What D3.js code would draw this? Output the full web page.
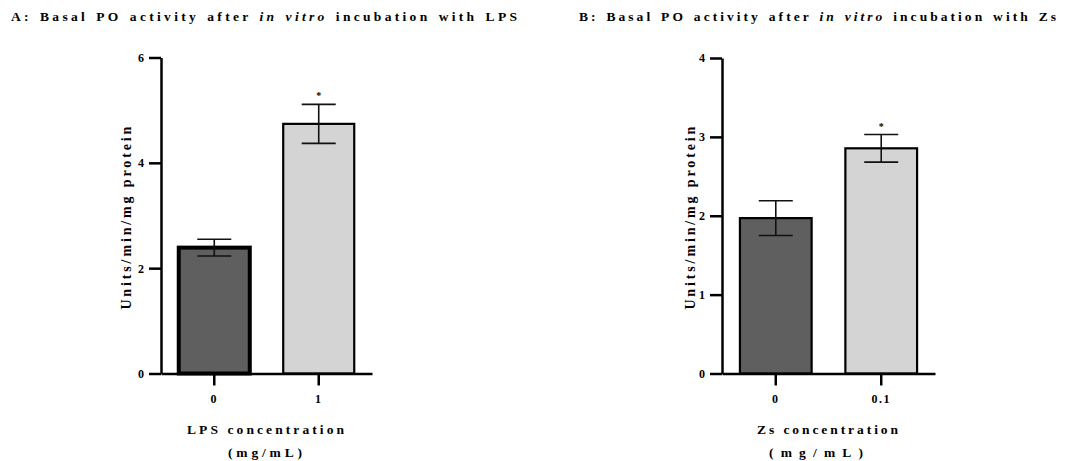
<!DOCTYPE html>
<html>
<head>
<meta charset="utf-8">
<script src="https://cdn.jsdelivr.net/npm/d3@7"></script>
<style>
  html, body { margin: 0; padding: 0; background: #fff; }
  svg { display: block; }
  svg text { font-family: "Liberation Serif", "Times New Roman", "DejaVu Serif", serif; font-weight: 700; fill: #000; }
</style>
</head>
<body>
<svg id="chart" width="1081" height="461"></svg>
<script>
// Panel A: LPS
const lpsCategories = ["0", "1"];
const lpsMeans = [2.39, 4.74];
const lpsErrors = [0.16, 0.37];
const lpsMarks = ["", "*"];
const lpsTicks = [0, 2, 4, 6];

// Panel B: zymosan (Zs)
const zsCategories = ["0", "0.1"];
const zsMeans = [1.97, 2.855];
const zsErrors = [0.22, 0.175];
const zsMarks = ["", "*"];
const zsTicks = [0, 1, 2, 3, 4];

const barFills = ["#5f5f5f", "#d4d4d4"];
const serif = "'Liberation Serif', 'Times New Roman', 'DejaVu Serif', serif";

const svg = d3.select("#chart");

// Spread a text's letters so that it spans a given width
function spread(sel, width) {
  sel.attr("letter-spacing", 0);
  const natural = sel.node().getComputedTextLength();
  const n = sel.text().length;
  sel.attr("letter-spacing", (width - natural) / Math.max(1, n - 1));
  return sel;
}

function panel(cfg) {
  const g = svg.append("g");

  // Title with italic "in vitro"
  const title = g.append("text")
    .attr("x", cfg.titleX).attr("y", 20.5)
    .attr("word-spacing", 1.5)
    .style("font-size", "13.5px");
  title.append("tspan").text(cfg.titlePre);
  title.append("tspan").style("font-style", "italic").text("in vitro");
  title.append("tspan").text(cfg.titlePost);
  spread(title, cfg.titleWidth);

  const x = d3.scaleBand()
    .domain(cfg.categories)
    .range([cfg.x0, cfg.x1])
    .paddingInner(0.32)
    .paddingOuter(0.17);

  const y = d3.scaleLinear()
    .domain([0, cfg.ticks[cfg.ticks.length - 1]])
    .range([373.5, cfg.yTop]);

  const rows = cfg.categories.map((c, i) => ({
    cat: c, mean: cfg.means[i], err: cfg.errors[i], mark: cfg.marks[i],
    fill: barFills[i], sw: cfg.strokeWidths[i]
  }));

  // Bars
  g.selectAll("rect.bar").data(rows).join("rect")
    .attr("class", "bar")
    .attr("x", d => x(d.cat))
    .attr("width", x.bandwidth())
    .attr("y", d => y(d.mean))
    .attr("height", d => y(0) - y(d.mean))
    .attr("fill", d => d.fill)
    .attr("stroke", "#000")
    .attr("stroke-width", d => d.sw);

  // Error bars
  const cap = 17;
  const eb = g.selectAll("g.err").data(rows).join("g").attr("class", "err")
    .attr("stroke", "#111").attr("stroke-width", 1.6);
  eb.append("line")
    .attr("x1", d => x(d.cat) + x.bandwidth() / 2)
    .attr("x2", d => x(d.cat) + x.bandwidth() / 2)
    .attr("y1", d => y(d.mean - d.err))
    .attr("y2", d => y(d.mean + d.err));
  eb.append("line")
    .attr("x1", d => x(d.cat) + x.bandwidth() / 2 - cap)
    .attr("x2", d => x(d.cat) + x.bandwidth() / 2 + cap)
    .attr("y1", d => y(d.mean + d.err))
    .attr("y2", d => y(d.mean + d.err));
  eb.append("line")
    .attr("x1", d => x(d.cat) + x.bandwidth() / 2 - cap)
    .attr("x2", d => x(d.cat) + x.bandwidth() / 2 + cap)
    .attr("y1", d => y(d.mean - d.err))
    .attr("y2", d => y(d.mean - d.err));

  // Significance marks
  g.selectAll("text.sig").data(rows.filter(d => d.mark)).join("text")
    .attr("class", "sig")
    .attr("x", d => x(d.cat) + x.bandwidth() / 2)
    .attr("y", d => y(d.mean + d.err) - 5)
    .attr("text-anchor", "middle")
    .style("font-size", "10px")
    .text(d => d.mark);

  // Y axis
  const yAxis = g.append("g")
    .attr("transform", `translate(${cfg.x0},0)`)
    .call(d3.axisLeft(y).tickValues(cfg.ticks).tickSize(12).tickSizeOuter(0).tickPadding(5)
      .tickFormat(d3.format("d")));
  yAxis.attr("font-family", serif).attr("font-size", 12);
  yAxis.select(".domain").attr("stroke", "#000").attr("stroke-width", 2.5);
  yAxis.selectAll(".tick line").attr("stroke", "#000").attr("stroke-width", 2.5);
  yAxis.selectAll(".tick text").attr("fill", "#000");

  // X axis
  const xAxis = g.append("g")
    .attr("transform", "translate(0,373.5)")
    .call(d3.axisBottom(x).tickSize(12).tickSizeOuter(0));
  xAxis.attr("font-family", serif).attr("font-size", 12);
  xAxis.select(".domain").attr("stroke", "#000").attr("stroke-width", 2.5);
  xAxis.selectAll(".tick line").attr("stroke", "#000").attr("stroke-width", 2.5);
  xAxis.selectAll(".tick text")
    .attr("y", 29.5).attr("dy", 0)
    .attr("fill", "#000")
    .attr("letter-spacing", 1.5);

  // Y axis title
  const yl = g.append("text")
    .attr("transform", `translate(${cfg.yLabelX},216.7) rotate(-90)`)
    .attr("text-anchor", "middle")
    .style("font-size", "14px")
    .text("Units/min/mg protein");
  spread(yl, 183);

  // X axis title, two lines
  const xl1 = g.append("text")
    .attr("x", cfg.xTitleX - cfg.xTitleW / 2).attr("y", 434)
    .style("font-size", "13.5px")
    .text(cfg.xTitle);
  spread(xl1, cfg.xTitleW);
  const xl2 = g.append("text")
    .attr("x", cfg.unitX - cfg.unitW / 2).attr("y", 457)
    .style("font-size", "13.5px")
    .text("(mg/mL)");
  spread(xl2, cfg.unitW);
}

panel({
  categories: lpsCategories, means: lpsMeans, errors: lpsErrors, marks: lpsMarks,
  ticks: lpsTicks, strokeWidths: [4, 2.2],
  x0: 161, x1: 372, yTop: 57.5,
  titleX: 11, titleWidth: 506,
  titlePre: "A: Basal PO activity after ", titlePost: " incubation with LPS",
  yLabelX: 130.5, xTitle: "LPS concentration", xTitleX: 265.5, xTitleW: 157,
  unitX: 265, unitW: 74
});

panel({
  categories: zsCategories, means: zsMeans, errors: zsErrors, marks: zsMarks,
  ticks: zsTicks, strokeWidths: [2.2, 2.2],
  x0: 722, x1: 935, yTop: 58,
  titleX: 579, titleWidth: 477,
  titlePre: "B: Basal PO activity after ", titlePost: " incubation with Zs",
  yLabelX: 694.5, xTitle: "Zs concentration", xTitleX: 827.5, xTitleW: 141,
  unitX: 816, unitW: 94
});
</script>
</body>
</html>
